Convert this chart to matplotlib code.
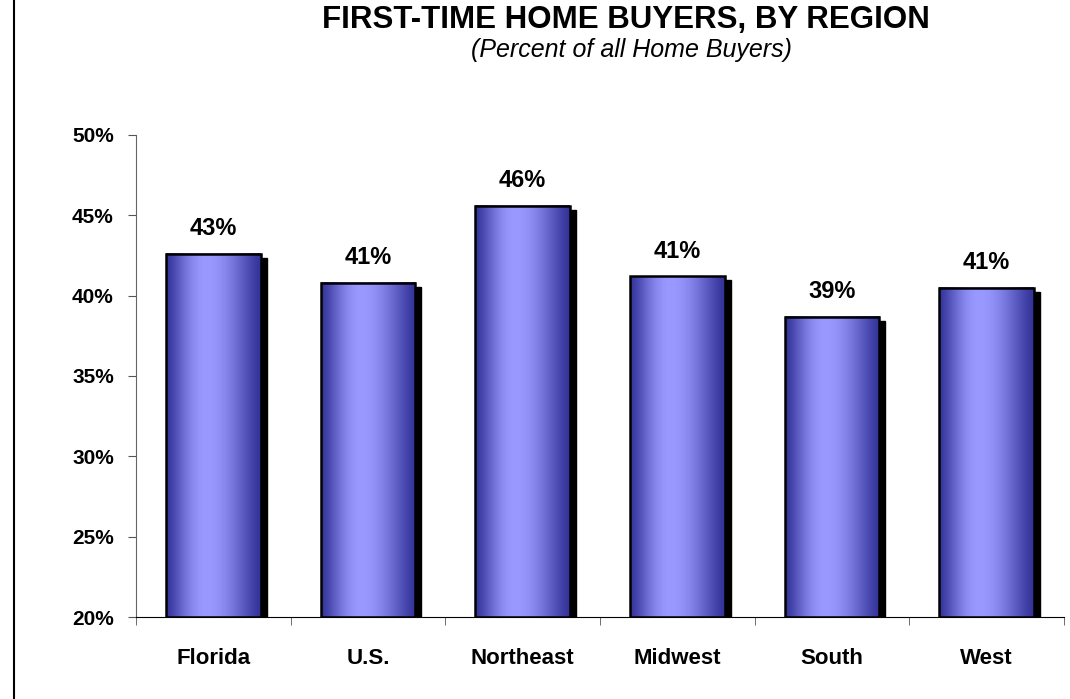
import matplotlib.pyplot as plt
import numpy as np
from matplotlib.patches import Rectangle
from matplotlib.lines import Line2D

regions = ['Florida', 'U.S.', 'Northeast', 'Midwest', 'South', 'West']
share = [42.6, 40.8, 45.6, 41.2, 38.7, 40.5]
labels = ['43%', '41%', '46%', '41%', '39%', '41%']

plt.rcParams['font.family'] = ['Liberation Sans', 'DejaVu Sans']

fig = plt.figure(figsize=(10.7, 6.99), dpi=100)
ax = fig.add_axes([0.1271, 0.1173, 0.8673, 0.6896])

# horizontal gradient for the "cylinder" look
dark = np.array([51, 51, 153]) / 255
light = np.array([153, 153, 255]) / 255
t = np.linspace(0, 1, 200)
f = np.where(t < 0.42, t / 0.42, (1 - t) / 0.58)
f = np.sin(f * np.pi / 2) ** 1.3
grad = dark + (light - dark) * f[:, None]
grad = grad[None, :, :]

w = 0.61
dx = 0.04
dy = 0.25
x = np.arange(len(regions))
for xi, v, lab in zip(x, share, labels):
    ax.add_patch(Rectangle((xi - w / 2 + dx, 20), w, v - dy - 20, color='black', zorder=2))
    ax.imshow(grad, extent=(xi - w / 2, xi + w / 2, 20, v), aspect='auto', zorder=3, interpolation='bilinear')
    ax.add_patch(Rectangle((xi - w / 2, 20), w, v - 20, fill=False, edgecolor='black', lw=1.8, zorder=4))
    ax.text(xi, v + 0.85, lab, ha='center', va='bottom', fontsize=17, fontweight='bold')

ax.set_xlim(-0.5, 5.5)
ax.set_ylim(20, 50)
ax.set_yticks(range(20, 51, 5))
ax.set_yticklabels([f'{v}%' for v in range(20, 51, 5)], fontsize=15, fontweight='bold')
ax.set_xticks(x)
ax.set_xticklabels(regions, fontsize=16, fontweight='bold')
ax.set_xticks(np.arange(-0.5, 5.6, 1), minor=True)
ax.tick_params(axis='x', which='major', length=0, pad=22)
ax.tick_params(axis='x', which='minor', length=6, color='#555555', direction='out')
ax.tick_params(axis='y', length=6, color='#555555', pad=10)
for s in ['top', 'right']:
    ax.spines[s].set_visible(False)
ax.spines['left'].set_color('#666666')
ax.spines['bottom'].set_color('black')
ax.spines['bottom'].set_zorder(5)

fig.text(0.585, 0.972, 'FIRST-TIME HOME BUYERS, BY REGION', ha='center', va='center',
         fontsize=22.5, fontweight='bold')
fig.text(0.59, 0.928, '(Percent of all Home Buyers)', ha='center', va='center',
         fontsize=18, fontstyle='italic')

fig.add_artist(Line2D([0.0135, 0.0135], [0, 1], color='black', lw=1.5))

fig.savefig('out.png', dpi=100)
